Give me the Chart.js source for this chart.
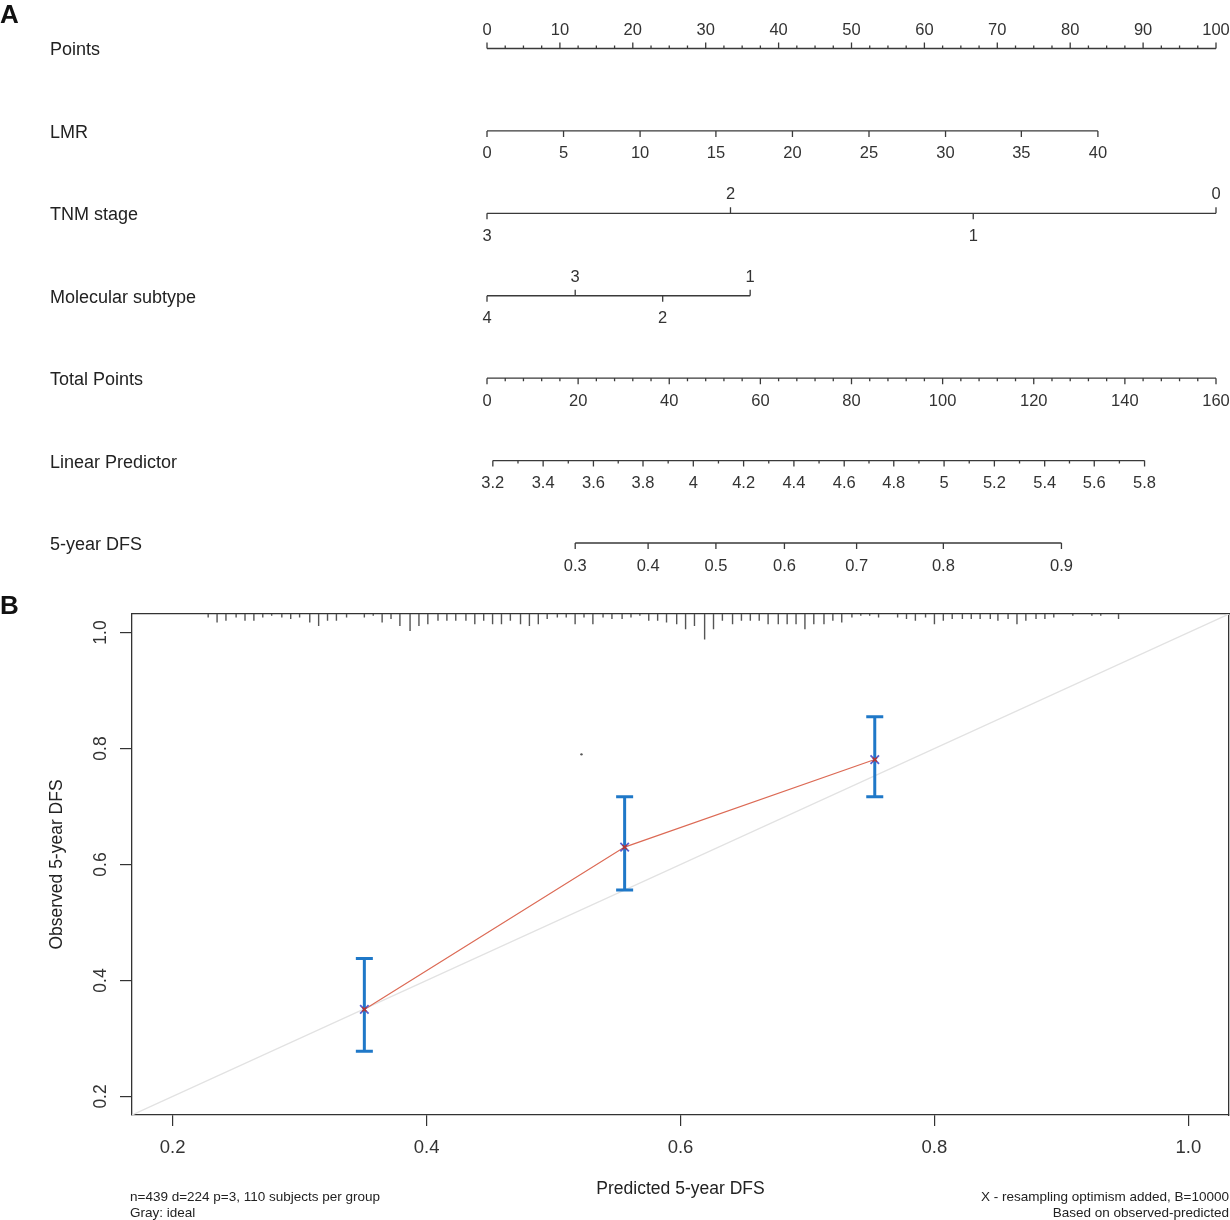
<!DOCTYPE html>
<html><head><meta charset="utf-8">
<script src="https://cdn.jsdelivr.net/npm/chart.js@4.4.1/dist/chart.umd.min.js"></script>
<style>
html,body{margin:0;padding:0;background:#fff;}
#page{position:relative;width:1230px;height:1220px;overflow:hidden;font-family:"Liberation Sans",Arial,sans-serif;background:#fff;}
.panel{position:absolute;font-weight:bold;font-size:26px;line-height:26px;color:#111;}
#nomoBox{position:absolute;left:0;top:0;width:1230px;height:590px;}
#calBox{position:absolute;left:0;top:590px;width:1230px;height:630px;}
.note{position:absolute;font-size:13.5px;color:#222;line-height:16px;white-space:nowrap;}
</style></head>
<body><div id="page">
<div id="nomoBox"><canvas id="nomo"></canvas></div>
<div id="calBox"><canvas id="cal"></canvas></div>
<div class="panel" style="left:0;top:1px">A</div>
<div class="panel" style="left:0;top:592px">B</div>
<div class="note" style="left:130px;top:1189px">n=439 d=224 p=3, 110 subjects per group<br>Gray: ideal</div>
<div class="note" style="right:1px;top:1189px;text-align:right">X - resampling optimism added, B=10000<br>Based on observed-predicted</div>
</div>
<script>
// ---------------- Nomogram data (A) ----------------
const rowLabels = ['Points','LMR','TNM stage','Molecular subtype','Total Points','Linear Predictor','5-year DFS'];
const pointsTicks = [0,10,20,30,40,50,60,70,80,90,100];
const lmrTicks = [0,5,10,15,20,25,30,35,40];
const lmrTickPoints = [0,10.5,21.0,31.4,41.9,52.4,62.9,73.3,83.8];
const tnmTicks = ['3','2','1','0'];
const tnmTickPoints = [0,33.4,66.7,100];
const tnmLabelSide = [1,-1,1,-1];          // 1 = below line, -1 = above line
const subtypeTicks = ['4','3','2','1'];
const subtypeTickPoints = [0,12.1,24.1,36.1];
const subtypeLabelSide = [1,-1,1,-1];
const totalPointsTicks = [0,20,40,60,80,100,120,140,160];
const totalPointsMax = 160;
const lpTicks = ['3.2','3.4','3.6','3.8','4','4.2','4.4','4.6','4.8','5','5.2','5.4','5.6','5.8'];
const lpTickPoints = [0.8,7.7,14.6,21.4,28.3,35.2,42.1,49.0,55.8,62.7,69.6,76.5,83.3,90.2];
const dfsTicks = ['0.3','0.4','0.5','0.6','0.7','0.8','0.9'];
const dfsTickPoints = [12.1,22.1,31.4,40.8,50.7,62.6,78.8];

// ---------------- Calibration data (B) ----------------
const calPredicted = [0.351, 0.556, 0.753];
const calObserved  = [0.350, 0.630, 0.781];
const calLower     = [0.278, 0.556, 0.717];
const calUpper     = [0.438, 0.717, 0.855];
const idealLine    = [0, 1.1];
const strayMark    = [0.522, 0.790];
const calTicks     = [0.2, 0.4, 0.6, 0.8, 1.0];
const rugPredicted = [0.228,0.235,0.242,0.250,0.257,0.264,0.271,0.278,0.286,0.293,0.300,0.308,0.315,0.322,0.329,0.337,0.351,0.358,0.365,0.372,0.379,0.387,0.394,0.401,0.409,0.416,0.423,0.431,0.438,0.445,0.452,0.459,0.466,0.474,0.481,0.488,0.495,0.503,0.510,0.517,0.524,0.531,0.539,0.546,0.554,0.561,0.568,0.575,0.582,
  0.589,0.597,0.604,0.611,0.619,0.626,0.633,0.641,0.648,0.655,0.662,0.669,0.677,0.684,0.691,0.698,0.705,0.713,0.720,0.727,0.735,0.742,0.749,0.756,0.771,0.778,0.785,0.793,0.800,0.807,0.814,0.822,0.829,0.836,0.844,0.850,0.858,0.865,0.872,0.880,0.887,0.894,0.909,0.924,0.931,0.945];
const rugCounts = [2,5,4,2,4,4,2,1,2,3,2,5,7,4,4,2,2,1,5,3,7,10,7,6,4,4,4,4,6,4,6,6,4,6,7,6,3,2,2,6,2,6,2,3,3,2,1,4,4,
  5,6,9,7,15,9,4,6,4,4,4,6,6,6,6,9,6,6,4,5,2,1,1,2,2,3,4,2,6,4,3,3,3,3,3,4,3,6,4,3,3,2,1,1,1,3];

// ---------------- styles ----------------
const FONT = '"Liberation Sans", Arial, sans-serif';
Chart.defaults.font.family = FONT;
const ROW_PX = 82.42;
const MAJOR = 6 / ROW_PX, MINOR = 3 / ROW_PX;
const GAP_ABOVE = 18.5, GAP_BELOW = 23;
const AX_MIN = 0.168, AX_MAX = 1.032;
const CAP = 0.0067;
const RUG_UNIT = 1.7 / 580;
const noPad = s => { s.paddingLeft = 0; s.paddingRight = 0; s.paddingTop = 0; s.paddingBottom = 0; };

// ---------------- build nomogram rows ----------------
const pointsMinor = [];
for (let k = 0; k <= 40; k++) if (k % 4) pointsMinor.push(k * 2.5);
const totalMinor = [];
for (let t = 0; t <= totalPointsMax; t += 4) if (t % 20) totalMinor.push(t / totalPointsMax * 100);
const lpMinor = lpTickPoints.slice(1).map((p, i) => (p + lpTickPoints[i]) / 2);

const rowSpecs = [
  {row:0, start:0, end:100, major: pointsTicks.map(v => ({p:v, label:String(v), side:-1})), minor: pointsMinor, minorSide:-1},
  {row:1, start:lmrTickPoints[0], end:lmrTickPoints[lmrTickPoints.length-1], major: lmrTicks.map((v,i) => ({p:lmrTickPoints[i], label:String(v), side:1})), minor: [], minorSide:1},
  {row:2, start:tnmTickPoints[0], end:tnmTickPoints[tnmTickPoints.length-1], major: tnmTicks.map((v,i) => ({p:tnmTickPoints[i], label:v, side:tnmLabelSide[i]})), minor: [], minorSide:1},
  {row:3, start:subtypeTickPoints[0], end:subtypeTickPoints[subtypeTickPoints.length-1], major: subtypeTicks.map((v,i) => ({p:subtypeTickPoints[i], label:v, side:subtypeLabelSide[i]})), minor: [], minorSide:1},
  {row:4, start:0, end:100, major: totalPointsTicks.map(v => ({p:v / totalPointsMax * 100, label:String(v), side:1})), minor: totalMinor, minorSide:1},
  {row:5, start:lpTickPoints[0], end:lpTickPoints[lpTickPoints.length-1], major: lpTicks.map((v,i) => ({p:lpTickPoints[i], label:v, side:1})), minor: lpMinor, minorSide:1},
  {row:6, start:dfsTickPoints[0], end:dfsTickPoints[dfsTickPoints.length-1], major: dfsTicks.map((v,i) => ({p:dfsTickPoints[i], label:v, side:1})), minor: [], minorSide:1}
];

function rowSegments(s) {
  const d = [{x:s.start, y:s.row}, {x:s.end, y:s.row}, {x:s.end, y:null}];
  s.major.forEach(t => { d.push({x:t.p, y:s.row}, {x:t.p, y:s.row + t.side * MAJOR}, {x:t.p, y:null}); });
  s.minor.forEach(p => { d.push({x:p, y:s.row}, {x:p, y:s.row + s.minorSide * MINOR}, {x:p, y:null}); });
  return d;
}

const nomoLabelPlugin = {
  id: 'nomoLabels',
  afterDatasetsDraw(chart) {
    const {ctx, scales: {x, y}} = chart;
    ctx.save();
    ctx.font = '16.5px ' + FONT;
    ctx.fillStyle = '#333';
    ctx.textAlign = 'center';
    ctx.textBaseline = 'middle';
    rowSpecs.forEach(s => s.major.forEach(t => {
      const gap = t.side < 0 ? -GAP_ABOVE : GAP_BELOW;
      ctx.fillText(t.label, x.getPixelForValue(t.p), y.getPixelForValue(s.row) + gap);
    }));
    ctx.restore();
  }
};

new Chart(document.getElementById('nomo'), {
  type: 'line',
  data: { datasets: rowSpecs.map(s => ({
    data: rowSegments(s), borderColor: '#3a3a3a', borderWidth: 1.3, pointRadius: 0,
    spanGaps: false, fill: false, tension: 0, clip: false
  })) },
  options: {
    responsive: true, maintainAspectRatio: false, animation: false,
    layout: { autoPadding: false, padding: { left: 50, right: 14, top: 48.5, bottom: 47 } },
    plugins: { legend: { display: false }, tooltip: { enabled: false } },
    scales: {
      x: { type: 'linear', display: false, min: 0, max: 100 },
      y: {
        type: 'linear', reverse: true, min: 0, max: rowLabels.length - 1,
        afterBuildTicks: s => { s.ticks = rowLabels.map((_, i) => ({ value: i })); },
        afterFit: s => { s.width = 437; noPad(s); },
        ticks: { callback: v => rowLabels[v], crossAlign: 'far', autoSkip: false, color: '#222', labelOffset: 2, font: { size: 18 } },
        grid: { display: false }, border: { display: false }
      }
    }
  },
  plugins: [nomoLabelPlugin]
});

// ---------------- calibration chart ----------------
const errData = [];
calPredicted.forEach((x, i) => {
  errData.push({x:x, y:calLower[i]}, {x:x, y:calUpper[i]}, {x:x, y:null});
  errData.push({x:x-CAP, y:calUpper[i]}, {x:x+CAP, y:calUpper[i]}, {x:x+CAP, y:null});
  errData.push({x:x-CAP, y:calLower[i]}, {x:x+CAP, y:calLower[i]}, {x:x+CAP, y:null});
});
const rugData = [];
rugPredicted.forEach((x, i) => {
  rugData.push({x:x, y:AX_MAX}, {x:x, y:AX_MAX - rugCounts[i] * RUG_UNIT}, {x:x, y:null});
});
const calPts = calPredicted.map((x, i) => ({x:x, y:calObserved[i]}));

new Chart(document.getElementById('cal'), {
  type: 'line',
  data: { datasets: [
    { data: calPts, showLine: false, pointStyle: 'crossRot', pointRadius: 6, pointBorderWidth: 1.8, pointBorderColor: '#5a5fd0', order: 0 },
    { data: calPts, showLine: false, pointStyle: 'crossRot', pointRadius: 3, pointBorderWidth: 1.5, pointBorderColor: '#b8342a', order: -1 },
    { data: errData, borderColor: '#1f78c8', borderWidth: 3, pointRadius: 0, spanGaps: false, borderCapStyle: 'butt', order: 1 },
    { data: calPts, borderColor: '#dc6a55', borderWidth: 1.2, pointRadius: 0, order: 2 },
    { data: [{x:strayMark[0], y:strayMark[1]}], showLine: false, pointRadius: 1.2, pointBackgroundColor: '#555', pointBorderWidth: 0, order: 2 },
    { data: rugData, borderColor: '#555', borderWidth: 1.4, pointRadius: 0, spanGaps: false, order: 3 },
    { data: idealLine.map(v => ({x:v, y:v})), borderColor: '#e2e2e2', borderWidth: 1.3, pointRadius: 0, order: 4 }
  ] },
  options: {
    responsive: true, maintainAspectRatio: false, animation: false,
    layout: { autoPadding: false, padding: { left: 47, right: 1, top: 24, bottom: 20 } },
    plugins: { legend: { display: false }, tooltip: { enabled: false } },
    scales: {
      x: {
        type: 'linear', position: 'bottom', min: AX_MIN, max: AX_MAX,
        afterBuildTicks: s => { s.ticks = calTicks.map(v => ({ value: v })); },
        afterFit: s => { s.height = 85; noPad(s); },
        ticks: { callback: v => v.toFixed(1), font: { size: 18.5 }, color: '#333', padding: 11, maxRotation: 0, autoSkip: false },
        grid: { drawOnChartArea: false, drawTicks: true, tickLength: 11, color: '#333', lineWidth: 1.2 },
        border: { display: true, color: '#333', width: 1.3 },
        title: { display: true, text: 'Predicted 5-year DFS', font: { size: 17.5 }, color: '#222', padding: 0 }
      },
      x2: {
        type: 'linear', position: 'top', min: AX_MIN, max: AX_MAX,
        afterFit: s => { s.height = 0; noPad(s); },
        ticks: { display: false }, grid: { display: false, drawTicks: false },
        border: { display: true, color: '#333', width: 1.3 }
      },
      y: {
        type: 'linear', position: 'left', min: AX_MIN, max: AX_MAX,
        afterBuildTicks: s => { s.ticks = calTicks.map(v => ({ value: v })); },
        afterFit: s => { s.width = 85; noPad(s); },
        ticks: { callback: v => v.toFixed(1), font: { size: 17.5 }, color: '#333', padding: 7, minRotation: 90, maxRotation: 90, crossAlign: 'center', autoSkip: false },
        grid: { drawOnChartArea: false, drawTicks: true, tickLength: 12, color: '#333', lineWidth: 1.2 },
        border: { display: true, color: '#333', width: 1.3 },
        title: { display: true, text: 'Observed 5-year DFS', font: { size: 17.5 }, color: '#222', padding: 0 }
      },
      y2: {
        type: 'linear', position: 'right', min: AX_MIN, max: AX_MAX,
        afterFit: s => { s.width = 0; noPad(s); },
        ticks: { display: false }, grid: { display: false, drawTicks: false },
        border: { display: true, color: '#333', width: 1.3 }
      }
    }
  }
});
</script>
</body></html>
